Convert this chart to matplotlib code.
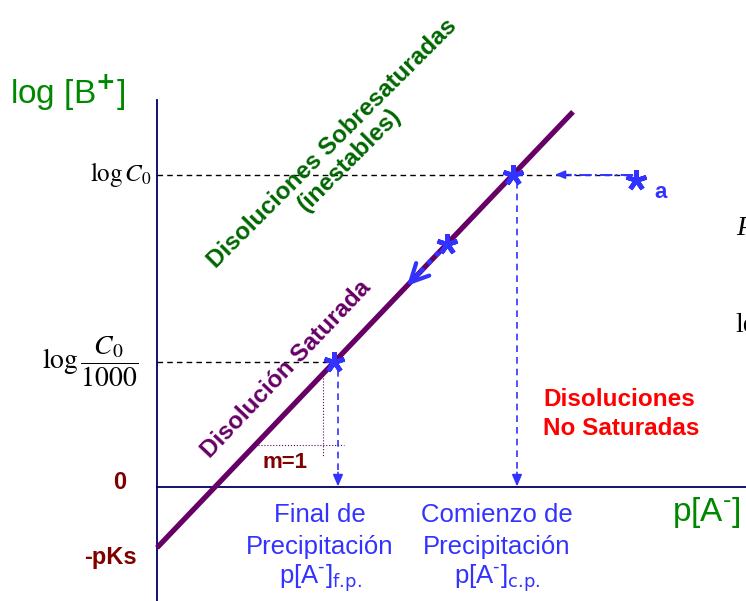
import matplotlib
matplotlib.use("Agg")
import matplotlib.pyplot as plt
import numpy as np

# arbitrary units: y = x - pKs (slope m = 1)
PKS = 5.8
LOG_C0 = 29.8
LOG_C0_1000 = 11.9
X_END = 41.6

STAR_A = (47.9, 29.3)
STAR_MID_X = 29.0
ARROW_MID_TO_X = 25.0

SANS = ["Liberation Sans", "DejaVu Sans"]
SERIF = ["Liberation Serif", "DejaVu Serif"]

BLUE = "#3333ff"
PURPLE = "#660066"
DKRED = "#800000"
AXIS = "#000066"

x_cp = LOG_C0 + PKS
x_fp = LOG_C0_1000 + PKS

fig = plt.figure(figsize=(7.46, 6.01), dpi=100)
ax = fig.add_axes([0, 0, 1, 1])
ax.set_xlim(-15.7, 58.9)
ax.set_ylim(-10.88, 46.47)
ax.axis("off")

# axes
ax.plot([0, 0], [-10.9, 36.9], color=AXIS, lw=1.3)
ax.plot([0, 58.9], [0, 0], color=AXIS, lw=1.3)

# dashed reference levels
ax.plot([0, STAR_A[0]], [LOG_C0, LOG_C0], color="black", lw=1, dashes=(4, 3))
ax.plot([0, x_fp], [LOG_C0_1000, LOG_C0_1000], color="black", lw=1, dashes=(4, 3))

# saturation line
xs = np.array([0, X_END])
ax.plot(xs, xs - PKS, color=PURPLE, lw=3.8, solid_capstyle="butt")

# slope triangle
ax.plot([x_fp - 1.1, x_fp - 1.1], [LOG_C0_1000 - 1.2, 3.0], color=PURPLE, lw=0.8, ls=":")
ax.plot([10.1, 18.7], [4.0, 4.0], color=PURPLE, lw=0.8, ls=":")

# vertical projections to the p[A-] axis
for xv, ytop in [(x_fp + 0.4, LOG_C0_1000 - 0.7), (x_cp + 0.4, LOG_C0 - 0.7)]:
    ax.plot([xv, xv], [ytop, 1.2], color=BLUE, lw=1.2, dashes=(4, 3))
    ax.annotate("", xy=(xv, 0.05), xytext=(xv, 1.4),
                arrowprops=dict(arrowstyle="-|>,head_length=0.7,head_width=0.3",
                                color=BLUE, lw=1.2, shrinkA=0, shrinkB=0))

# horizontal dash-dot arrow from point a
ax.plot([STAR_A[0] - 0.3, 41.2], [LOG_C0, LOG_C0], color=BLUE, lw=1.4, ls="-.")
ax.annotate("", xy=(39.8, LOG_C0), xytext=(41.4, LOG_C0),
            arrowprops=dict(arrowstyle="-|>,head_length=0.6,head_width=0.25",
                            color=BLUE, lw=1.2, shrinkA=0, shrinkB=0))

# dotted arrow along the line
ax.plot([STAR_MID_X - 0.8, ARROW_MID_TO_X + 0.6],
        [STAR_MID_X - 0.8 - PKS, ARROW_MID_TO_X + 0.6 - PKS],
        color=BLUE, lw=3.5, ls=(0, (1, 1.3)))
ax.annotate("", xy=(ARROW_MID_TO_X, ARROW_MID_TO_X - PKS),
            xytext=(ARROW_MID_TO_X + 1.2, ARROW_MID_TO_X + 1.2 - PKS),
            arrowprops=dict(arrowstyle="->,head_length=1.3,head_width=0.65",
                            color=BLUE, lw=3, shrinkA=0, shrinkB=0))

# points
star_x = [x_fp, STAR_MID_X, x_cp, STAR_A[0]]
star_y = [LOG_C0_1000, STAR_MID_X - PKS, LOG_C0, STAR_A[1]]
ax.plot(star_x, star_y, ls="none", marker=(5, 2, 0), ms=15, mew=3.4, color=BLUE)

# axis titles
ax.text(-14.7, 37.6, "log [B$^{\\mathbf{+}}$]", color="#008800", fontsize=24, family=SANS,
        va="center", ha="left", math_fontfamily="dejavusans")
ax.text(51.5, -2.4, r"p[A$^{\text{-}}$]", color="#008800", fontsize=24, family=SANS,
        va="center", ha="left", math_fontfamily="dejavusans")

# y tick labels
ax.text(-0.5, LOG_C0, r"$\log C_0$", fontsize=18, ha="right", va="center",
        math_fontfamily="stix")
ax.text(-1.9, LOG_C0_1000, r"$\log\dfrac{C_0}{1000}$", fontsize=20, ha="right",
        va="center", math_fontfamily="stix")
ax.text(-3.7, 0.4, "0", color=DKRED, fontsize=17, fontweight="bold", family=SANS,
        ha="center", va="center")
ax.text(-4.7, -6.7, "-pKs", color=DKRED, fontsize=17, fontweight="bold", family=SANS,
        ha="center", va="center")

# x labels
for xc, l1, sub in [(16.3, "Final de", "f.p."), (34.0, "Comienzo de", "c.p.")]:
    ax.text(xc, -2.67, l1, color=BLUE, fontsize=18.5, family=SANS, ha="center", va="center")
    ax.text(xc, -5.73, "Precipitación", color=BLUE, fontsize=18.5, family=SANS,
            ha="center", va="center")
    ax.text(xc, -8.68, r"p[A$^{\text{-}}$]$_{\text{%s}}$" % sub, color=BLUE,
            fontsize=18.5, family=SANS, ha="center", va="center",
            math_fontfamily="dejavusans")

# region labels
ax.text(18.4, 32.0, "Disoluciones Sobresaturadas\n(inestables)", color="#006600",
        fontsize=17.5, fontweight="bold", family=SANS, rotation=45,
        rotation_mode="anchor", ha="center", va="center", linespacing=1.05)
ax.text(12.9, 11.2, "Disolución Saturada", color=PURPLE, fontsize=17.5,
        fontweight="bold", family=SANS, rotation=46.5, rotation_mode="anchor",
        ha="center", va="center")
ax.text(38.6, 6.95, "Disoluciones\nNo Saturadas", color="#ff0000", fontsize=17.5,
        fontweight="bold", family=SANS, ha="left", va="center", linespacing=1.3)
ax.text(12.8, 2.3, "m=1", color=DKRED, fontsize=16, fontweight="bold", family=SANS,
        ha="center", va="center")
ax.text(50.4, 28.1, "a", color=BLUE, fontsize=16, fontweight="bold", family=SANS,
        ha="center", va="center")

# fragments cut by the right edge
ax.text(57.9, 24.7, "P", fontsize=20, family=SERIF, style="italic", va="center")
ax.text(57.8, 15.4, "le", fontsize=20, family=SERIF, va="center")

fig.savefig("out.png", dpi=100)
